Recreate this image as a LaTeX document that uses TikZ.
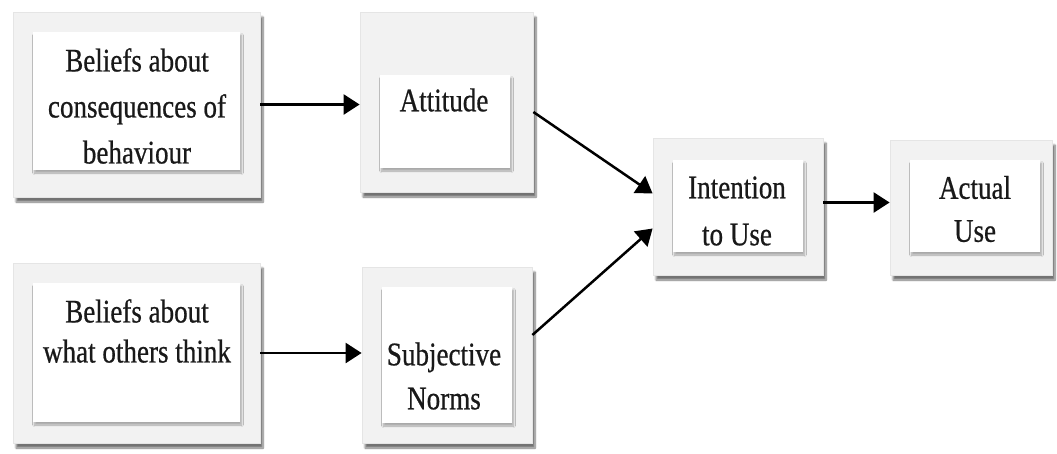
\documentclass[tikz,border=0pt]{standalone}
\usepackage{fontspec}
\setmainfont[FakeStretch=0.82, FakeBold=0.6]{Liberation Serif}
\usetikzlibrary{arrows.meta,shadows.blur}

\tikzset{
  frame/.style={draw=gray!20, line width=0.8pt, fill=gray!10,
    blur shadow={shadow xshift=3pt, shadow yshift=-5pt, shadow blur steps=8, shadow opacity=55},
    inner sep=0pt},
  panel/.style={fill=white, draw=none, inner sep=0pt,
    blur shadow={shadow xshift=1.5pt, shadow yshift=-3pt, shadow blur steps=5, shadow opacity=30}},
  caption/.style={font=\fontsize{33}{44}\selectfont, align=center, inner sep=0pt, text=black!90},
  link/.style={line width=2.5pt, -{Triangle[length=16pt,width=20pt]}}
}

\begin{document}
\begin{tikzpicture}[x=1pt, y=-1pt]
  \useasboundingbox (0,0) rectangle (1057,453);

  % Beliefs about consequences
  \node[frame, minimum width=247pt, minimum height=185pt] (b1) at (136.5,104.5) {};
  \node[panel, minimum width=207pt, minimum height=138pt] (b1in) at (136.5,101) {};
  \node[caption, font=\fontsize{33}{46}\selectfont] (b1t) at (137,106) {Beliefs about\\consequences of\\behaviour};

  % Beliefs about others
  \node[frame, minimum width=247pt, minimum height=180pt] (b5) at (136.5,353) {};
  \node[panel, minimum width=207pt, minimum height=139pt] (b5in) at (136.5,352.5) {};
  \node[caption, font=\fontsize{33}{40}\selectfont] (b5t) at (137,331) {Beliefs about\\what others think};

  % Attitude
  \node[frame, minimum width=173pt, minimum height=180pt] (att) at (446.5,102) {};
  \node[panel, minimum width=130pt, minimum height=93pt] (attin) at (445,121.5) {};
  \node[caption] (attt) at (444,100) {Attitude};

  % Subjective norms
  \node[frame, minimum width=170pt, minimum height=176pt] (subj) at (447,355) {};
  \node[panel, minimum width=130pt, minimum height=136pt] (subjin) at (447,355) {};
  \node[caption] (subjt) at (444,376) {Subjective\\Norms};

  % Intention to use
  \node[frame, minimum width=170pt, minimum height=137pt] (int) at (738,206.5) {};
  \node[panel, minimum width=130pt, minimum height=92pt] (intin) at (738,206) {};
  \node[caption, font=\fontsize{33}{47}\selectfont] (intt) at (737,211) {Intention\\to Use};

  % Actual use
  \node[frame, minimum width=162pt, minimum height=135pt] (act) at (971,207.5) {};
  \node[panel, minimum width=130pt, minimum height=92pt] (actin) at (975,206) {};
  \node[caption, font=\fontsize{33}{43}\selectfont] (actt) at (975,209) {Actual\\Use};

  % Connectors
  \draw[link] (b1.east) -- (b1.east -| att.west);
  \draw[link] (b5.east) -- (b5.east -| subj.west);
  \draw[link] ([yshift=-10pt]att.east) -- ([yshift=13pt]int.west);
  \draw[link] ([yshift=20pt]subj.east) -- ([yshift=-22pt]int.west);
  \draw[link] ([yshift=4pt]int.east) -- ([yshift=4pt]int.east -| act.west);
\end{tikzpicture}
\end{document}
